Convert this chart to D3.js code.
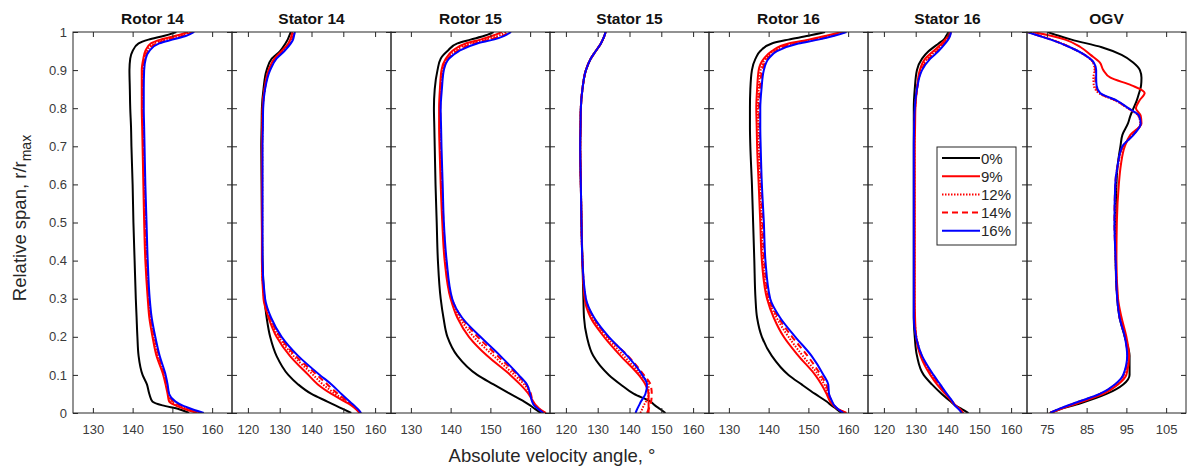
<!DOCTYPE html>
<html>
<head>
<meta charset="utf-8">
<title>Absolute velocity angle</title>
<style>
body { margin: 0; background: #fff; }
text { font-family: "Liberation Sans", Arial, sans-serif; }
.tick text { font-size: 13px; fill: #3a3a3a; }
.tick line { stroke: #262626; }
.title { font-size: 15.5px; font-weight: bold; fill: #111; }
.label { font-size: 18.5px; fill: #262626; }
.legend text { font-size: 15px; fill: #262626; }
</style>
</head>
<body>
<svg width="1187" height="469"></svg>
<script src="https://d3js.org/d3.v7.min.js"></script>
<script>
// span stations shared by the blade-row panels, ascending from hub
var span = [0, .01, .02, .03, .05, .075, .1, .15, .2, .25, .3, .4, .5, .6, .7, .75, .8, .85, .9, .93, .95, .97, .98, .99, 1];
// the OGV panel needs finer stations near the tip
var spanOgv = [0, .01, .025, .05, .075, .1, .15, .2, .25, .3, .4, .5, .6, .65, .7, .73, .76, .78, .8, .82, .84, .86, .88, .9, .92, .94, .96, .98, .99, 1];

var seriesNames = ["0%", "9%", "12%", "14%", "16%"];
var panelTitles = ["Rotor 14", "Stator 14", "Rotor 15", "Stator 15", "Rotor 16", "Stator 16", "OGV"];

// angle values in degrees, one row per bleed setting (0, 9, 12, 14, 16 %)
var rotor14 = [
  [154.2, 151.7, 147.5, 145.0, 144.2, 143.6, 142.5, 141.5, 141.2, 141.0, 140.8, 140.5, 140.2, 140.0, 139.7, 139.6, 139.4, 139.3, 139.2, 139.4, 140.0, 141.5, 144.0, 148.0, 151.0],
  [156.2, 153.3, 150.8, 149.2, 148.8, 148.3, 147.7, 146.0, 145.0, 144.2, 143.8, 143.2, 142.9, 142.7, 142.5, 142.4, 142.3, 142.3, 142.3, 142.7, 143.2, 144.6, 147.0, 150.8, 154.0],
  [156.8, 154.0, 151.5, 149.8, 149.0, 148.5, 148.0, 146.4, 145.3, 144.5, 144.0, 143.5, 143.2, 142.9, 142.7, 142.6, 142.5, 142.5, 142.6, 142.9, 143.6, 145.5, 148.2, 152.0, 154.7],
  [157.3, 154.5, 152.0, 150.2, 149.1, 148.7, 148.1, 146.6, 145.5, 144.6, 144.1, 143.6, 143.3, 143.0, 142.8, 142.7, 142.6, 142.6, 142.7, 143.1, 143.9, 146.0, 149.0, 152.8, 155.0],
  [157.9, 155.0, 152.5, 150.8, 149.2, 148.8, 148.3, 146.8, 145.7, 144.8, 144.3, 143.8, 143.5, 143.2, 143.0, 142.9, 142.8, 142.8, 142.9, 143.3, 144.2, 146.7, 150.0, 153.5, 155.5]
];
var stator14 = [
  [152.5, 150.0, 147.5, 145.0, 140.0, 135.8, 132.7, 129.0, 127.0, 125.9, 125.2, 124.6, 124.4, 124.3, 124.2, 124.3, 124.4, 124.9, 125.9, 127.5, 130.1, 131.8, 132.5, 133.0, 133.5],
  [155.1, 154.0, 152.5, 150.5, 146.3, 142.0, 139.0, 133.2, 129.0, 126.5, 124.9, 124.4, 124.4, 124.4, 124.4, 124.5, 124.6, 125.2, 126.5, 128.3, 130.6, 132.7, 133.3, 133.7, 134.0],
  [155.3, 154.2, 152.8, 151.0, 147.5, 143.6, 140.5, 134.3, 129.7, 126.8, 125.1, 124.5, 124.5, 124.5, 124.5, 124.6, 124.7, 125.3, 126.7, 128.6, 131.0, 133.0, 133.7, 134.1, 134.4],
  [155.5, 154.4, 153.0, 151.4, 148.3, 145.0, 141.7, 135.0, 130.1, 127.0, 125.2, 124.5, 124.5, 124.5, 124.5, 124.6, 124.7, 125.3, 126.8, 128.8, 131.2, 133.2, 133.9, 134.3, 134.6],
  [155.6, 154.6, 153.4, 152.0, 149.4, 146.3, 142.6, 135.8, 130.6, 127.3, 125.4, 124.6, 124.6, 124.6, 124.6, 124.7, 124.8, 125.4, 127.0, 129.0, 131.5, 133.5, 134.2, 134.5, 134.8]
];
var rotor15 = [
  [162.7, 161.3, 160.0, 158.5, 155.0, 150.8, 146.7, 141.7, 139.2, 138.2, 137.5, 136.8, 136.5, 136.2, 136.0, 135.9, 135.8, 136.0, 136.7, 137.5, 139.2, 141.7, 145.0, 148.5, 150.8],
  [164.0, 162.5, 161.5, 160.8, 159.6, 157.5, 155.0, 149.2, 144.6, 141.7, 140.0, 138.5, 137.9, 137.5, 137.2, 137.1, 137.1, 137.3, 137.7, 138.8, 140.4, 143.8, 147.5, 150.5, 152.9],
  [163.8, 162.4, 161.3, 160.7, 160.0, 158.5, 156.0, 150.8, 145.8, 142.3, 140.2, 138.7, 138.1, 137.7, 137.4, 137.3, 137.3, 137.5, 138.0, 139.2, 141.0, 145.0, 148.7, 152.0, 154.0],
  [163.5, 162.2, 161.2, 160.6, 160.2, 159.0, 156.8, 151.8, 146.8, 142.8, 140.3, 138.8, 138.2, 137.8, 137.5, 137.4, 137.4, 137.6, 138.2, 139.4, 141.6, 146.0, 149.8, 153.0, 154.7],
  [163.3, 162.1, 161.0, 160.5, 160.0, 159.2, 157.1, 152.5, 147.5, 142.9, 140.4, 139.0, 138.3, 138.0, 137.7, 137.6, 137.5, 137.8, 138.3, 139.6, 142.1, 146.7, 150.8, 153.5, 155.2]
];
var stator15 = [
  [151.3, 149.7, 148.0, 146.6, 141.4, 137.2, 133.5, 128.6, 126.6, 125.7, 125.5, 125.2, 124.9, 124.7, 124.5, 124.6, 124.7, 125.2, 126.3, 127.8, 129.4, 131.0, 131.6, 132.1, 132.5],
  [146.0, 146.0, 146.0, 146.0, 146.0, 145.0, 142.9, 137.2, 132.0, 127.8, 125.9, 125.2, 124.9, 124.7, 124.5, 124.6, 124.7, 125.2, 126.3, 127.8, 129.4, 131.0, 131.6, 132.1, 132.5],
  [143.4, 144.0, 144.5, 145.2, 146.0, 146.0, 143.6, 138.2, 132.8, 128.4, 126.1, 125.2, 124.9, 124.7, 124.5, 124.6, 124.7, 125.2, 126.3, 127.8, 129.4, 131.0, 131.6, 132.1, 132.5],
  [145.5, 146.0, 146.5, 146.8, 147.0, 146.6, 144.5, 139.5, 133.2, 128.7, 126.2, 125.2, 124.9, 124.7, 124.5, 124.6, 124.7, 125.2, 126.3, 127.8, 129.4, 131.0, 131.6, 132.1, 132.5],
  [141.9, 142.4, 143.0, 143.6, 145.0, 145.5, 144.0, 139.3, 133.5, 128.9, 126.3, 125.2, 124.9, 124.7, 124.5, 124.6, 124.7, 125.2, 126.3, 127.8, 129.4, 131.0, 131.6, 132.1, 132.5]
];
var rotor16 = [
  [158.3, 157.1, 155.8, 154.6, 151.7, 148.3, 145.0, 140.8, 138.3, 137.1, 136.7, 136.4, 136.1, 135.8, 135.4, 135.3, 135.3, 135.4, 135.8, 136.7, 137.9, 140.8, 145.0, 150.0, 154.2],
  [159.6, 157.5, 156.3, 155.5, 154.6, 153.3, 151.7, 147.5, 143.8, 141.3, 139.6, 138.3, 137.9, 137.5, 137.1, 137.0, 136.9, 137.1, 137.5, 138.8, 140.8, 145.0, 150.0, 154.5, 158.3],
  [159.4, 157.5, 156.4, 155.8, 155.0, 154.0, 152.5, 148.6, 145.0, 142.0, 139.9, 138.6, 138.2, 137.8, 137.5, 137.4, 137.3, 137.5, 138.0, 139.3, 141.4, 146.0, 151.0, 155.5, 158.8],
  [159.2, 157.5, 156.4, 155.9, 155.1, 154.5, 153.1, 149.8, 145.9, 142.5, 140.1, 138.9, 138.5, 138.1, 137.8, 137.7, 137.6, 137.8, 138.4, 139.7, 141.8, 146.8, 151.8, 156.0, 159.2],
  [158.8, 157.5, 156.5, 156.0, 155.2, 155.0, 153.8, 150.8, 146.7, 142.9, 140.4, 139.2, 138.8, 138.3, 138.0, 137.9, 137.9, 138.2, 138.8, 140.0, 142.1, 147.5, 152.5, 156.5, 159.6]
];
var stator16 = [
  [146.6, 144.5, 142.5, 141.0, 138.2, 135.1, 132.5, 130.4, 129.7, 129.4, 129.4, 129.4, 129.4, 129.4, 129.4, 129.4, 129.4, 129.7, 130.4, 132.0, 134.1, 137.2, 138.8, 139.6, 140.3],
  [145.0, 144.0, 142.5, 141.4, 139.3, 136.7, 134.6, 131.5, 130.1, 129.8, 129.7, 129.7, 129.7, 129.7, 129.7, 129.8, 129.9, 130.4, 131.3, 133.0, 135.6, 138.2, 139.3, 140.2, 140.8],
  [144.8, 143.8, 142.4, 141.5, 139.5, 137.2, 135.0, 131.8, 130.2, 129.7, 129.6, 129.6, 129.6, 129.6, 129.6, 129.7, 129.8, 130.4, 131.6, 133.7, 136.3, 138.7, 139.7, 140.5, 141.0],
  [144.7, 143.7, 142.4, 141.5, 139.6, 137.4, 135.3, 131.9, 130.2, 129.6, 129.5, 129.5, 129.5, 129.5, 129.5, 129.6, 129.8, 130.4, 131.8, 134.1, 136.8, 139.0, 140.0, 140.7, 141.0],
  [144.5, 143.5, 142.3, 141.6, 139.8, 137.7, 135.6, 132.0, 130.1, 129.4, 129.4, 129.4, 129.4, 129.4, 129.4, 129.5, 129.7, 130.4, 132.0, 134.6, 137.2, 139.3, 140.2, 140.8, 141.1]
];
var ogv = [
  [75.8, 78.3, 83.3, 90.0, 94.2, 95.8, 95.8, 94.6, 93.3, 92.7, 92.3, 92.3, 92.5, 92.8, 93.5, 94.0, 95.4, 96.0, 96.8, 97.6, 98.2, 98.7, 98.8, 98.4, 96.7, 93.8, 88.8, 81.2, 78.0, 75.2],
  [75.8, 78.3, 82.5, 89.2, 92.9, 95.0, 95.7, 95.0, 93.8, 92.9, 92.5, 92.6, 93.1, 93.6, 94.6, 96.0, 98.8, 98.6, 97.4, 98.3, 99.6, 96.3, 91.0, 89.2, 88.3, 86.0, 83.5, 79.6, 76.0, 71.5],
  [75.8, 78.0, 81.9, 88.5, 92.3, 94.4, 95.3, 94.7, 93.4, 92.8, 92.3, 92.1, 92.3, 92.9, 94.2, 96.6, 98.5, 98.0, 95.3, 92.2, 88.0, 86.8, 86.7, 87.0, 86.6, 84.4, 80.9, 76.2, 73.2, 70.2],
  [75.8, 78.0, 81.8, 88.4, 92.2, 94.3, 95.3, 94.6, 93.3, 92.7, 92.3, 92.0, 92.2, 92.8, 94.1, 96.7, 98.6, 98.1, 95.4, 92.4, 88.2, 87.3, 87.2, 87.2, 86.7, 84.5, 80.8, 76.1, 73.1, 70.1],
  [75.8, 77.9, 81.7, 88.3, 92.1, 94.2, 95.2, 94.6, 93.3, 92.7, 92.3, 92.0, 92.2, 92.8, 94.0, 96.8, 98.6, 98.2, 95.5, 92.6, 88.4, 87.5, 87.4, 87.4, 86.8, 84.5, 80.8, 76.0, 73.0, 70.0]
];

var panelData = [rotor14, stator14, rotor15, stator15, rotor16, stator16, ogv];
var panelSpans = [span, span, span, span, span, span, spanOgv];
var panelDomains = [[125, 165], [115, 165], [125, 165], [115, 165], [125, 165], [115, 165], [70, 110]];
var panelTicks = [
  [130, 140, 150, 160], [120, 130, 140, 150, 160], [130, 140, 150, 160], [120, 130, 140, 150, 160],
  [130, 140, 150, 160], [120, 130, 140, 150, 160], [75, 85, 95, 105]
];
var spanTicks = [0, .1, .2, .3, .4, .5, .6, .7, .8, .9, 1];

var colors = ["#000000", "#ff0000", "#ff0000", "#ff0000", "#0000ff"];
var dashes = [null, null, "1.5,1.5", "6,4", null];

var svg = d3.select("svg"),
    plotLeft = 73, plotTop = 32, plotBottom = 413,
    panelW = 159, tickLen = 5;

var y = d3.scaleLinear().domain([0, 1]).range([plotBottom, plotTop]);

panelData.forEach(function(rows, p) {
    var x0 = plotLeft + p * panelW;
    var x = d3.scaleLinear().domain(panelDomains[p]).range([x0, x0 + panelW]);
    var g = svg.append("g");

    var line = d3.line()
        .x(function(d) { return x(d[0]); })
        .y(function(d) { return y(d[1]); })
        .curve(d3.curveMonotoneY);

    var clipId = "clip" + p;
    svg.append("clipPath").attr("id", clipId)
      .append("rect").attr("x", x0).attr("y", plotTop).attr("width", panelW).attr("height", plotBottom - plotTop);

    var lines = g.append("g").attr("clip-path", "url(#" + clipId + ")");
    rows.forEach(function(vals, s) {
        var pts = vals.map(function(v, i) { return [v, panelSpans[p][i]]; });
        lines.append("path")
            .datum(pts)
            .attr("d", line)
            .attr("fill", "none")
            .attr("stroke", colors[s])
            .attr("stroke-width", 2)
            .attr("stroke-dasharray", dashes[s]);
    });

    // axes with inward ticks on all four sides
    g.append("g").attr("transform", "translate(0," + plotBottom + ")")
        .call(d3.axisBottom(x).tickValues(panelTicks[p]).tickSizeInner(-tickLen).tickSizeOuter(0).tickPadding(12))
        .call(function(a) { a.select(".domain").remove(); });
    g.append("g").attr("transform", "translate(0," + plotTop + ")")
        .call(d3.axisTop(x).tickValues(panelTicks[p]).tickSizeInner(-tickLen).tickSizeOuter(0).tickFormat(""))
        .call(function(a) { a.select(".domain").remove(); });
    g.append("g").attr("transform", "translate(" + x0 + ",0)")
        .call(d3.axisLeft(y).tickValues(spanTicks).tickSizeInner(-tickLen).tickSizeOuter(0).tickPadding(6)
            .tickFormat(p === 0 ? d3.format("") : ""))
        .call(function(a) { a.select(".domain").remove(); });
    g.append("g").attr("transform", "translate(" + (x0 + panelW) + ",0)")
        .call(d3.axisRight(y).tickValues(spanTicks).tickSizeInner(-tickLen).tickSizeOuter(0).tickFormat(""))
        .call(function(a) { a.select(".domain").remove(); });

    g.append("rect")
        .attr("x", x0).attr("y", plotTop)
        .attr("width", panelW).attr("height", plotBottom - plotTop)
        .attr("fill", "none").attr("stroke", "#262626").attr("stroke-width", 1);

    g.append("text").attr("class", "title")
        .attr("x", x0 + panelW / 2).attr("y", 24)
        .attr("text-anchor", "middle")
        .text(panelTitles[p]);
});

// axis labels
svg.append("text").attr("class", "label")
    .attr("x", 552).attr("y", 462)
    .attr("text-anchor", "middle")
    .text("Absolute velocity angle, \u00b0");

var yl = svg.append("text").attr("class", "label")
    .attr("transform", "translate(26,218) rotate(-90)")
    .attr("text-anchor", "middle");
yl.append("tspan").text("Relative span, r/r");
yl.append("tspan").attr("dy", 5).style("font-size", "14px").text("max");

// legend
var lg = svg.append("g").attr("class", "legend").attr("transform", "translate(937,147)");
lg.append("rect").attr("width", 79).attr("height", 98)
    .attr("fill", "#fff").attr("stroke", "#262626").attr("stroke-width", 1);
seriesNames.forEach(function(name, i) {
    var ly = 11 + i * 18.2;
    lg.append("line").attr("x1", 5).attr("x2", 43).attr("y1", ly).attr("y2", ly)
        .attr("stroke", colors[i]).attr("stroke-width", 2)
        .attr("stroke-dasharray", dashes[i]);
    lg.append("text").attr("x", 44).attr("y", ly + 5.5).text(name);
});
</script>
</body>
</html>
